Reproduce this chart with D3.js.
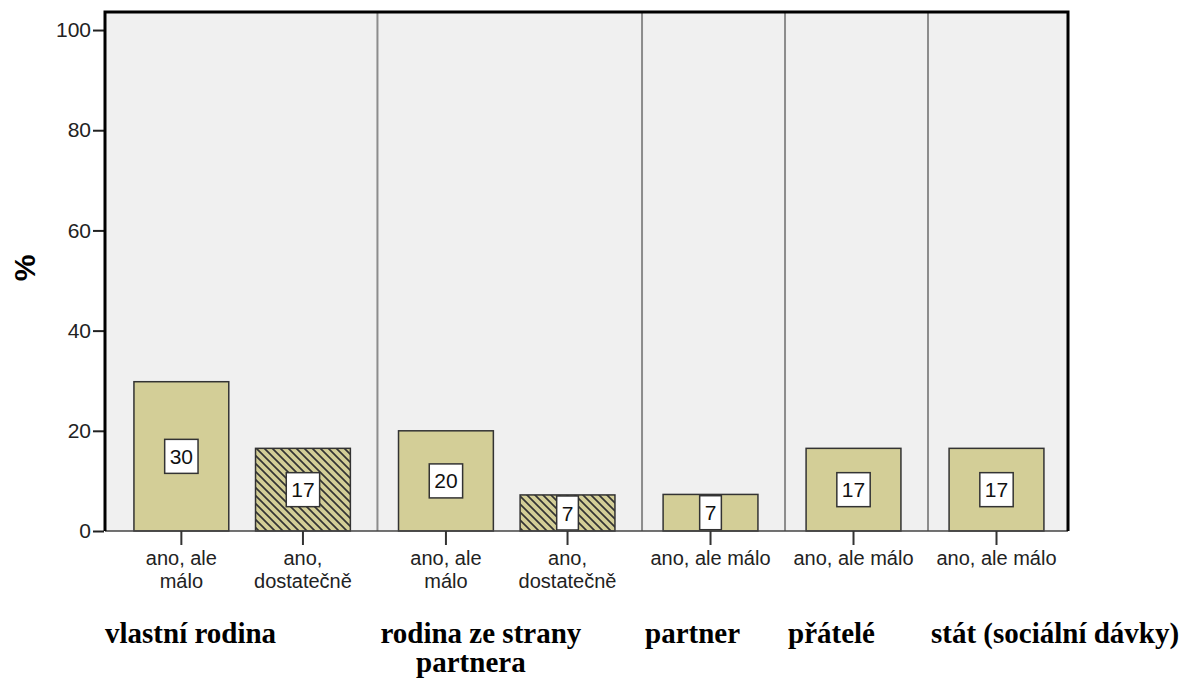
<!DOCTYPE html>
<html lang="cs">
<head>
    <meta charset="UTF-8">
    <title>Pomoc</title>
    <script src="https://cdn.jsdelivr.net/npm/d3@7"></script>
    <style>
        body { margin: 0; background: #fff; }
        svg { display: block; }
        .sans { font-family: "Liberation Sans", Arial, sans-serif; }
        .serif { font-family: "Liberation Serif", "Times New Roman", serif; }
    </style>
</head>
<body>
<div id="chart"></div>
<script>
    // skupiny (dolni popisky) a sloupce
    const groups = ["vlastní rodina", "rodina ze strany partnera", "partner", "přátelé", "stát (sociální dávky)"]
    const groupLines = [["vlastní rodina"], ["rodina ze strany", "partnera"], ["partner"], ["přátelé"], ["stát (sociální dávky)"]]
    const barGroup = [0, 0, 1, 1, 2, 3, 4]
    const barAnswer = ["ano, ale málo", "ano, dostatečně", "ano, ale málo", "ano, dostatečně", "ano, ale málo", "ano, ale málo", "ano, ale málo"]
    const barValues = [29.8, 16.5, 20.0, 7.2, 7.3, 16.5, 16.5]
    const barLabels = ["30", "17", "20", "7", "7", "17", "17"]
    const yTicks = [0, 20, 40, 60, 80, 100]

    const w = 1179
    const h = 679
    const mLeft = 105, mRight = 1068, mTop = 12, mBottom = 531
    const gapU = 0.176   // mezera mezi panely v jednotkach sloupce
    const padU = 0.04
    const barU = 0.78

    const svg = d3.select("#chart").append("svg")
        .attr("width", w)
        .attr("height", h)

    // hatched pattern for "dostatecne"
    const defs = svg.append("defs")
    const pat = defs.append("pattern")
        .attr("id", "hatch")
        .attr("patternUnits", "userSpaceOnUse")
        .attr("width", 8)
        .attr("height", 8)
    pat.append("rect").attr("width", 8).attr("height", 8).attr("fill", "#d3ce97")
    pat.append("path")
        .attr("d", "M0,0L8,8M-4,4L4,12M4,-4L12,4")
        .attr("stroke", "#333")
        .attr("stroke-width", 1.7)

    // panel layout in units
    const counts = groups.map((g, i) => barGroup.filter(b => b === i).length)
    const panelStart = []
    let acc = 0
    counts.forEach(c => { panelStart.push(acc); acc += c + gapU })
    const totalU = acc

    const x = d3.scaleLinear().domain([-padU, totalU]).range([mLeft, mRight])
    const y = d3.scaleLinear().domain([0, 103.6]).range([mBottom, mTop])

    const bars = barValues.map((v, i) => {
        const g = barGroup[i]
        const k = barGroup.slice(0, i).filter(b => b === g).length
        return {
            value: v,
            label: barLabels[i],
            answer: barAnswer[i],
            group: g,
            two: counts[g] > 1,
            center: panelStart[g] + gapU / 2 + k + 0.5
        }
    })

    // plot background
    svg.append("rect")
        .attr("x", mLeft).attr("y", mTop)
        .attr("width", mRight - mLeft).attr("height", mBottom - mTop)
        .attr("fill", "#f0f0f0")

    // panel dividers
    svg.selectAll("line.div")
        .data(panelStart.slice(1))
        .enter().append("line")
        .attr("class", "div")
        .attr("x1", d => x(d) + 3).attr("x2", d => x(d) + 3)
        .attr("y1", mTop).attr("y2", mBottom)
        .attr("stroke", "#8c8c8c")
        .attr("stroke-width", 2)

    // bars
    svg.selectAll("rect.bar")
        .data(bars)
        .enter().append("rect")
        .attr("class", "bar")
        .attr("x", d => x(d.center - barU / 2))
        .attr("width", x(barU) - x(0))
        .attr("y", d => y(d.value))
        .attr("height", d => y(0) - y(d.value))
        .attr("fill", d => d.answer === "ano, dostatečně" ? "url(#hatch)" : "#d3ce97")
        .attr("stroke", "#333")
        .attr("stroke-width", 1.5)

    // value boxes
    const lab = svg.selectAll("g.lab")
        .data(bars)
        .enter().append("g")
        .attr("class", "lab sans")
        .attr("transform", d => `translate(${x(d.center)},${(y(d.value) + y(0)) / 2})`)
    lab.append("rect").attr("class", "box")
    lab.append("text")
        .attr("text-anchor", "middle")
        .attr("dy", "0.36em")
        .style("font-size", "21px")
        .attr("fill", "#111")
        .text(d => d.label)
    lab.each(function () {
        const g = d3.select(this)
        const tw = g.select("text").node().getComputedTextLength()
        g.select("rect")
            .attr("x", -(tw + 10) / 2).attr("y", -17)
            .attr("width", tw + 10).attr("height", 34)
            .attr("fill", "#fff")
            .attr("stroke", "#333")
            .attr("stroke-width", 1.5)
    })

    // bottom axis line
    svg.append("line")
        .attr("x1", mLeft).attr("x2", mRight)
        .attr("y1", mBottom).attr("y2", mBottom)
        .attr("stroke", "#444")
        .attr("stroke-width", 1.5)

    // x ticks + answer labels
    svg.selectAll("line.xt")
        .data(bars)
        .enter().append("line")
        .attr("class", "xt")
        .attr("x1", d => x(d.center)).attr("x2", d => x(d.center))
        .attr("y1", mBottom).attr("y2", mBottom + 14)
        .attr("stroke", "#333")
        .attr("stroke-width", 2)

    const xl = svg.selectAll("text.xl")
        .data(bars)
        .enter().append("text")
        .attr("class", "xl sans")
        .attr("text-anchor", "middle")
        .style("font-size", "20px")
        .attr("fill", "#222")
    xl.each(function (d) {
        const t = d3.select(this)
        let lines = [d.answer]
        if (d.two) {
            const p = d.answer.indexOf(", ") + 1
            lines = d.answer.startsWith("ano, ale") ? ["ano, ale", "málo"] : [d.answer.slice(0, p), d.answer.slice(p + 1)]
        }
        lines.forEach((l, j) => {
            t.append("tspan")
                .attr("x", x(d.center))
                .attr("y", 565 + j * 23)
                .text(l)
        })
    })

    // y axis
    const yAxis = d3.axisLeft(y).tickValues(yTicks).tickSize(11).tickPadding(2)
    const ya = svg.append("g")
        .attr("class", "sans")
        .attr("transform", `translate(${mLeft - 1},0)`)
        .call(yAxis)
    ya.select(".domain").remove()
    ya.selectAll(".tick line").attr("stroke", "#222").attr("stroke-width", 2)
    ya.selectAll(".tick text").style("font-size", "21px").attr("fill", "#222")
        .style("font-family", "'Liberation Sans', Arial, sans-serif")

    // frame: left, top, right
    svg.append("path")
        .attr("d", `M${mLeft},${mBottom}V${mTop}H${mRight}V${mBottom}`)
        .attr("fill", "none")
        .attr("stroke", "#000")
        .attr("stroke-width", 3)

    // y title
    svg.append("text")
        .attr("class", "sans")
        .attr("transform", "translate(24,268) rotate(-90)")
        .attr("text-anchor", "middle")
        .attr("dy", "0.36em")
        .style("font-size", "30px")
        .style("font-weight", "bold")
        .text("%")

    // group labels under the chart
    groupLines.forEach((lines, i) => {
        const t = svg.append("text")
            .attr("class", "serif")
            .attr("text-anchor", "middle")
            .style("font-size", "29px")
            .style("font-weight", "bold")
            .attr("fill", "#000")
        const t0 = t.append("tspan").attr("y", 643).text(lines[0])
        const tw = t0.node().getComputedTextLength()
        const cx = (i === 0 ? x(-padU) : x(panelStart[i]) + 6) + tw / 2
        t0.attr("x", cx)
        lines.slice(1).forEach((l, j) => {
            t.append("tspan").attr("x", cx - 10).attr("y", 643 + 29 * (j + 1)).text(l)
        })
    })
</script>
</body>
</html>
